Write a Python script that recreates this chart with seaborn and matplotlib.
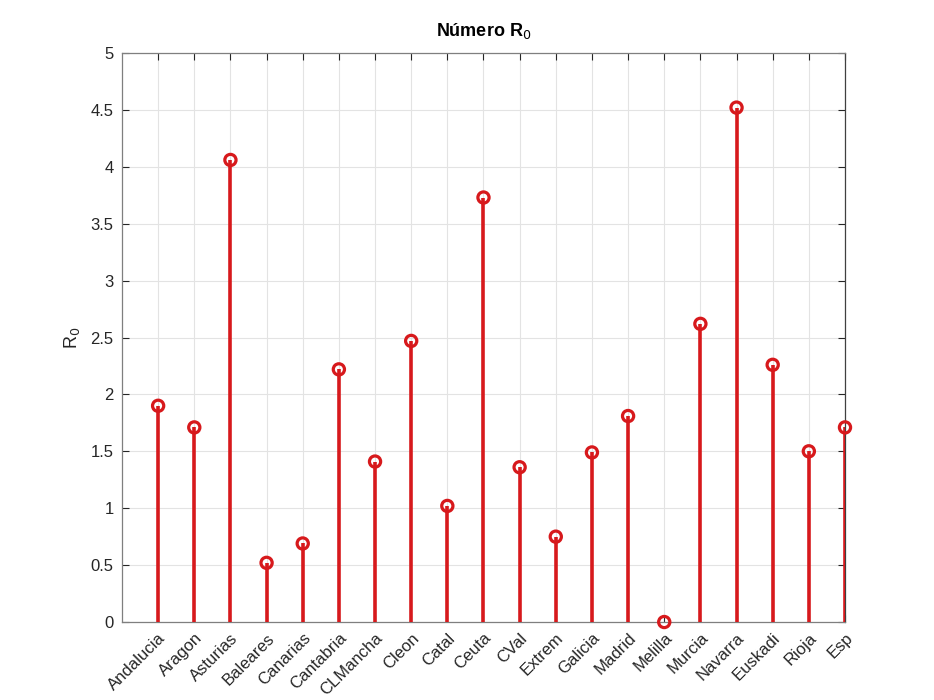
import matplotlib
matplotlib.use("Agg")
import matplotlib.pyplot as plt
import matplotlib.transforms as mtransforms
import seaborn as sns
import pandas as pd
import numpy as np

regions = ["Andalucia", "Aragon", "Asturias", "Baleares", "Canarias", "Cantabria",
           "CLMancha", "Cleon", "Catal", "Ceuta", "CVal", "Extrem", "Galicia",
           "Madrid", "Melilla", "Murcia", "Navarra", "Euskadi", "Rioja", "Esp"]
r0_values = [1.90, 1.71, 4.06, 0.52, 0.69, 2.22, 1.41, 2.47, 1.02, 3.73,
             1.36, 0.75, 1.49, 1.81, 0.0, 2.62, 4.52, 2.26, 1.50, 1.71]
y_ticks = [0, 0.5, 1, 1.5, 2, 2.5, 3, 3.5, 4, 4.5, 5]
y_tick_labels = ["0", "0.5", "1", "1.5", "2", "2.5", "3", "3.5", "4", "4.5", "5"]

sns.set_style("white")
plt.rcParams['font.family'] = ['Liberation Sans', 'DejaVu Sans']

df = pd.DataFrame({"pos": np.arange(1, len(regions) + 1), "r0": r0_values, "region": regions})

fig = plt.figure(figsize=(9.34, 7.0), dpi=100)
ax = fig.add_axes([0.1306, 0.1114, 0.7741, 0.8129])

red = "#d7191c"
ax.vlines(df["pos"], 0, df["r0"], color=red, linewidth=2.6, zorder=3)
sns.scatterplot(data=df, x="pos", y="r0", ax=ax, marker="o", s=65,
                facecolor="none", edgecolor=red, linewidth=2.3, zorder=4,
                legend=False, clip_on=False)

ax.set_xlim(0, 20)
ax.set_ylim(0, 5)
ax.set_xticks(df["pos"])
ax.set_xticklabels(regions, rotation=45, ha="right", rotation_mode="anchor",
                   fontsize=12, color="#262626")
offset = mtransforms.ScaledTranslation(6 / 72, 0, fig.dpi_scale_trans)
for lbl in ax.get_xticklabels():
    lbl.set_transform(lbl.get_transform() + offset)
ax.set_yticks(y_ticks)
ax.set_yticklabels(y_tick_labels, fontsize=12, color="#262626")
ax.grid(True, color="#e3e3e3", linewidth=0.8)
ax.set_axisbelow(True)
ax.tick_params(direction="in", length=5, width=0.8, color="#262626", top=True, right=True,
               bottom=True, left=True, pad=6)
for s in ax.spines.values():
    s.set_color("#7f7f7f")
    s.set_linewidth(0.9)
ax.spines["right"].set_color("#404040")
ax.set_xlabel("")
ax.set_ylabel("R$_0$", fontsize=13, color="#262626", labelpad=6)
ax.set_title("Número R$_0$", fontsize=13, fontweight="bold", color="#000000", pad=12)

fig.savefig("out.png", dpi=100, facecolor="white")
